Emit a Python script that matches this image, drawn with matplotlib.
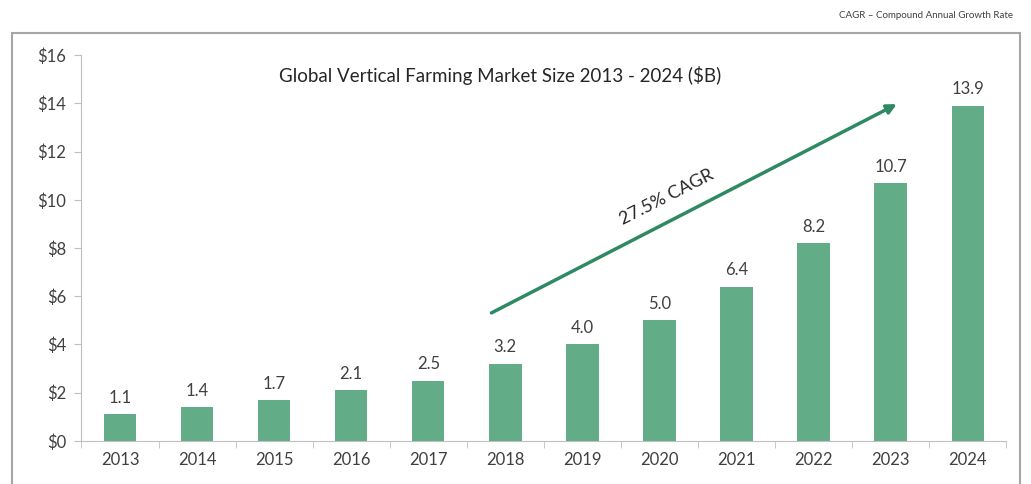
import matplotlib.pyplot as plt
from matplotlib.patches import Rectangle

years = ['2013', '2014', '2015', '2016', '2017', '2018',
         '2019', '2020', '2021', '2022', '2023', '2024']
market_size = [1.1, 1.4, 1.7, 2.1, 2.5, 3.2, 4.0, 5.0, 6.4, 8.2, 10.7, 13.9]
y_ticks = [0, 2, 4, 6, 8, 10, 12, 14, 16]

plt.rcParams['font.family'] = ['Lato', 'DejaVu Sans']

bar_color = '#62ad88'
arrow_color = '#2f8a63'
grey = '#bfbfbf'

fig = plt.figure(figsize=(10.31, 4.84), dpi=100)
ax = fig.add_axes([0.079, 0.089, 0.897, 0.797])

x = range(len(years))
bars = ax.bar(x, market_size, width=0.42, color=bar_color, zorder=2)
for xi, v in zip(x, market_size):
    ax.text(xi, v + 0.35, f'{v:.1f}', ha='center', va='bottom',
            fontsize=12, color='#404040')

ax.set_xlim(-0.5, len(years) - 0.5)
ax.set_ylim(0, 16)
ax.set_yticks(y_ticks)
ax.set_yticklabels([f'${t}' for t in y_ticks])
ax.set_xticks(list(x))
ax.set_xticklabels(years)
ax.set_xticks([i + 0.5 for i in range(-1, len(years))], minor=True)
ax.tick_params(axis='x', which='major', length=0, pad=8, labelsize=12, labelcolor='#404040')
ax.tick_params(axis='x', which='minor', length=5, color=grey)
ax.tick_params(axis='y', length=5, color=grey, labelsize=12, labelcolor='#404040', pad=6)

for s in ['top', 'right']:
    ax.spines[s].set_visible(False)
for s in ['left', 'bottom']:
    ax.spines[s].set_color(grey)

ax.text(4.93, 15.15, 'Global Vertical Farming Market Size 2013 - 2024 ($B)',
        ha='center', va='center', fontsize=13.5, color='#262626')

# CAGR arrow
ax.annotate('', xy=(10.08, 13.97), xytext=(4.82, 5.31),
            arrowprops=dict(arrowstyle='-|>', color=arrow_color, lw=2.5,
                            mutation_scale=14, shrinkA=0, shrinkB=0))
ax.text(7.1, 10.1, '27.5% CAGR', rotation=27, ha='center', va='center',
        fontsize=13, color='#262626', rotation_mode='anchor')

# outer frame and footnote
fig.patches.append(Rectangle((12 / 1031, -0.05), 1008 / 1031, 0.982,
                             transform=fig.transFigure, fill=False,
                             edgecolor='#a6a6a6', lw=1.5))
fig.text(1013 / 1031, 1 - 15 / 484, 'CAGR \u2013 Compound Annual Growth Rate',
         ha='right', va='center', fontsize=7, color='#404040')

fig.savefig('out.png', dpi=100)
